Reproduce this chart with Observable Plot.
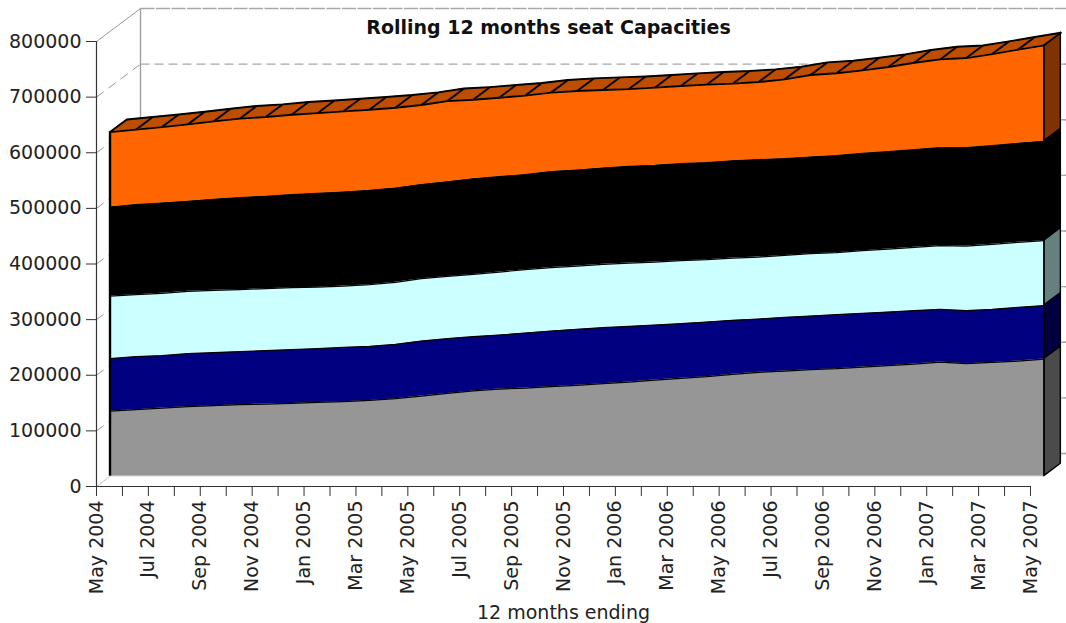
<!DOCTYPE html>
<html>
<head>
<meta charset="utf-8">
<script src="https://cdn.jsdelivr.net/npm/d3@7"></script>
<script src="https://cdn.jsdelivr.net/npm/@observablehq/plot@0.6"></script>
<style>html,body{margin:0;padding:0;background:#fff}svg{display:block}</style>
</head>
<body>
<div id="chart"></div>
<script>
const months = ["May 2004","Jun 2004","Jul 2004","Aug 2004","Sep 2004","Oct 2004","Nov 2004","Dec 2004","Jan 2005","Feb 2005","Mar 2005","Apr 2005","May 2005","Jun 2005","Jul 2005","Aug 2005","Sep 2005","Oct 2005","Nov 2005","Dec 2005","Jan 2006","Feb 2006","Mar 2006","Apr 2006","May 2006","Jun 2006","Jul 2006","Aug 2006","Sep 2006","Oct 2006","Nov 2006","Dec 2006","Jan 2007","Feb 2007","Mar 2007","Apr 2007","May 2007"];
const greySeats = [117400,119900,122800,125300,127100,128900,130000,131200,133000,134300,136600,139700,144400,149200,153700,156900,158700,161300,163600,166700,169500,173100,176200,179200,183400,187000,189300,191800,193600,196500,199000,201900,205500,202600,204900,207300,210900];
const navySeats = [94200,95300,94200,95300,95300,95300,96000,96500,96500,97600,97100,97600,98900,98300,97400,97100,98900,100000,100700,100700,100100,98900,98300,98200,97100,95800,96500,96400,97100,96500,96400,96000,94700,95300,95300,96500,96000];
const cyanSeats = [112500,111500,112000,112000,112000,111500,111500,111500,110700,110200,110900,111500,112200,112000,112000,113300,114000,114000,113800,113800,113800,113300,113300,112200,112000,111500,111500,112200,111500,112700,113300,113800,114500,116100,116900,116900,116900];
const blackSeats = [160000,161800,162300,161800,163600,165400,165900,167200,168400,169000,169500,169500,169000,170200,172000,171500,170800,172600,172600,173100,173800,173800,174400,174400,174700,175100,173800,173700,174400,174900,175100,175600,176200,176900,177400,178000,178500];
const orangeSeats = [134800,134800,136600,138400,140200,142000,142600,143800,144400,145100,145100,144500,143100,144900,142000,142000,142000,142000,142000,140200,139000,139700,139500,140200,138800,139500,142600,147400,148000,149200,152100,156400,158700,161100,164700,168500,172600];
const yTicks = [0,100000,200000,300000,400000,500000,600000,700000,800000];

const seriesList = [greySeats, navySeats, cyanSeats, blackSeats, orangeSeats];
const faceColors = ["#969696","#000080","#ccffff","#000000","#ff6600"];
const sideColors = ["#4b4b4b","#000040","#668080","#000000","#803300"];
const topColor = "#bf4d00";

// oblique projection: a "depth" of 1 is the full depth of the chart box
const wallMonths = 1.696, wallSeats = 59300;
const frontDepth = 0.307, backDepth = 0.69;
const px = (i, d) => i + d * wallMonths;
const py = (v, d) => v + d * wallSeats;

const idx = months.map((_, i) => i);
const last = idx.length - 1;
const cum = [idx.map(() => 0)];
seriesList.forEach((s, k) => cum.push(s.map((v, i) => v + cum[k][i])));
const topEdge = cum[5];

const marks = [];
// back wall
const wallX = px(0, 1);
marks.push(Plot.ruleX([wallX], {y1: py(0, 1), y2: py(800000, 1), stroke: "#a0a0a0", strokeWidth: 1.4}));
yTicks.forEach(v => {
  const isTop = v === 800000, isFloor = v === 0;
  marks.push(Plot.link([v], {
    x1: () => wallX, x2: () => last + 4, y1: d => py(d, 1), y2: d => py(d, 1),
    stroke: "#a8a8a8", strokeWidth: 1.3, strokeDasharray: isTop ? "14,1.5" : "9,5"
  }));
  if (!isTop) marks.push(Plot.link([v], {
    x1: () => last, x2: () => last + 4, y1: d => py(d, 1), y2: d => py(d, 1),
    stroke: "#a8a8a8", strokeWidth: 1.3
  }));
  marks.push(Plot.link([v], {
    x1: () => 0, x2: () => wallX, y1: d => d, y2: d => py(d, 1),
    stroke: isTop ? "#999" : isFloor ? "#c4c4c4" : "#999", strokeWidth: 1,
    strokeDasharray: isTop || isFloor ? null : "9,6"
  }));
});

// right-hand sides of the layers
seriesList.forEach((s, k) => {
  const ends = [frontDepth, backDepth];
  marks.push(Plot.areaY(ends, {
    x: d => px(last, d), y1: d => py(cum[k][last], d), y2: d => py(cum[k + 1][last], d),
    fill: sideColors[k], stroke: "black", strokeWidth: 1.4
  }));
});

// top face and its segment edges
marks.push(Plot.area(idx, {
  x1: i => px(i, frontDepth), y1: i => py(topEdge[i], frontDepth),
  x2: i => px(i, backDepth), y2: i => py(topEdge[i], backDepth),
  fill: topColor
}));
marks.push(Plot.link(idx, {
  x1: i => px(i, frontDepth), y1: i => py(topEdge[i], frontDepth),
  x2: i => px(i, backDepth), y2: i => py(topEdge[i], backDepth),
  stroke: "black", strokeWidth: 1.9
}));
marks.push(Plot.line(idx, {x: i => px(i, backDepth), y: i => py(topEdge[i], backDepth), stroke: "black", strokeWidth: 1.9}));

// front faces
seriesList.forEach((s, k) => {
  marks.push(Plot.areaY(idx, {
    x: i => px(i, frontDepth), y1: i => py(cum[k][i], frontDepth), y2: i => py(cum[k + 1][i], frontDepth),
    fill: faceColors[k]
  }));
});
for (let k = 1; k <= 5; k++) {
  marks.push(Plot.line(idx, {x: i => px(i, frontDepth), y: i => py(cum[k][i], frontDepth), stroke: "black", strokeWidth: k === 5 ? 1.9 : 1.2}));
}
marks.push(Plot.ruleX([px(0, frontDepth)], {y1: py(0, frontDepth), y2: py(topEdge[0], frontDepth), stroke: "black", strokeWidth: 2.4}));
marks.push(Plot.ruleX([px(last, frontDepth)], {y1: py(0, frontDepth), y2: py(topEdge[last], frontDepth), stroke: "black", strokeWidth: 1.7}));
marks.push(Plot.ruleY([py(0, frontDepth)], {x1: px(0, frontDepth), x2: px(last, frontDepth), stroke: "#e4e4e4", strokeWidth: 1}));

// axes
marks.push(Plot.ruleX([0], {y1: 0, y2: 800000, stroke: "#333", strokeWidth: 1.2}));
marks.push(Plot.ruleY([0], {x1: 0, x2: last, stroke: "#333", strokeWidth: 1.2}));
marks.push(Plot.axisY({
  ticks: yTicks, tickFormat: d => String(d), tickSize: 10, tickPadding: 5,
  label: null, color: "#222", stroke: "#333", fontSize: 19
}));
marks.push(Plot.axisX({
  ticks: idx, tickFormat: i => i % 2 === 0 ? months[i] : "", tickSize: 10, tickPadding: 4, tickRotate: -90,
  label: "12 months ending", labelAnchor: "center", labelArrow: "none", labelOffset: 132,
  color: "#222", stroke: "#333", fontSize: 19
}));
marks.push(Plot.text(["Rolling 12 months seat Capacities"], {
  frameAnchor: "top", dx: -15, dy: -21, fontSize: 19, fontWeight: "bold", fill: "#111"
}));

const chart = Plot.plot({
  width: 1066, height: 623,
  marginLeft: 96, marginRight: 36, marginTop: 41, marginBottom: 137,
  style: {fontFamily: "'DejaVu Sans', sans-serif", fontSize: "19px", background: "#fff"},
  x: {domain: [0, last]},
  y: {domain: [0, 800000]},
  marks
});
document.getElementById("chart").append(chart);
</script>
</body>
</html>
